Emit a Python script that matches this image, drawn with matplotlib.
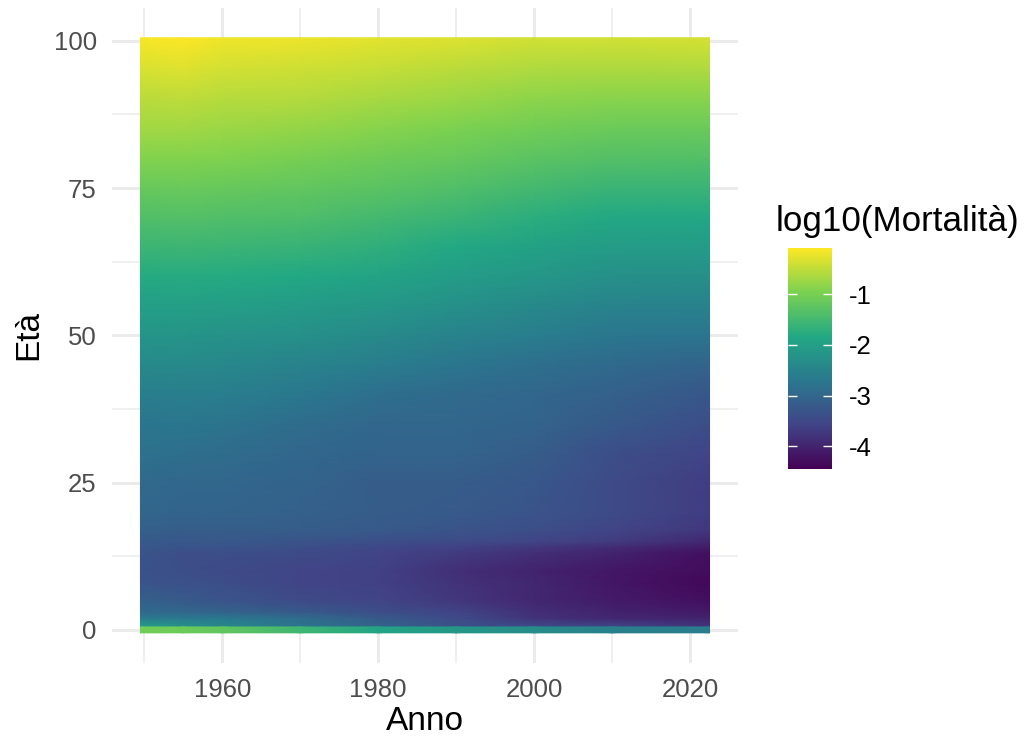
import numpy as np
import matplotlib
matplotlib.use("Agg")
import matplotlib.pyplot as plt
from matplotlib.colors import LinearSegmentedColormap

plt.rcParams['font.family'] = ['Liberation Sans', 'DejaVu Sans']

years = [1950, 1955, 1960, 1970, 1980, 1990, 2000, 2010, 2022]

# log10 mortality for age 0, one value per year in `years`
infant = [-1.05, -1.1, -1.2, -1.55, -1.9, -2.15, -2.35, -2.55, -2.62]

# the rest of the ages
ages = [1, 2, 3, 5, 8, 10, 13, 14, 15, 17, 20, 25, 30, 35, 40, 45, 50, 55, 60,
        65, 70, 75, 80, 85, 90, 95, 100]
mort = [
    [-2.0, -2.2, -2.4, -2.75, -3.05, -3.35, -3.45, -3.5, -3.75],
    [-2.65, -2.68, -2.7, -2.9, -3.2, -3.45, -3.8, -3.95, -4.0],
    [-2.95, -3.0, -3.05, -3.2, -3.4, -3.55, -3.85, -4.0, -4.1],
    [-3.1, -3.2, -3.3, -3.45, -3.55, -3.75, -3.95, -4.1, -4.25],
    [-3.3, -3.35, -3.4, -3.55, -3.6, -3.8, -3.95, -4.15, -4.35],
    [-3.35, -3.4, -3.45, -3.55, -3.6, -3.85, -4.0, -4.15, -4.3],
    [-3.3, -3.4, -3.4, -3.45, -3.55, -3.7, -3.85, -4.0, -4.25],
    [-3.25, -3.3, -3.3, -3.4, -3.5, -3.6, -3.75, -3.9, -4.1],
    [-3.2, -3.25, -3.25, -3.3, -3.4, -3.45, -3.55, -3.7, -3.95],
    [-3.1, -3.15, -3.15, -3.15, -3.2, -3.3, -3.4, -3.55, -3.75],
    [-3.0, -3.05, -3.05, -3.1, -3.15, -3.2, -3.3, -3.45, -3.65],
    [-2.95, -3.0, -3.0, -3.05, -3.15, -3.15, -3.25, -3.45, -3.65],
    [-2.8, -2.85, -2.9, -3.0, -3.05, -3.05, -3.15, -3.4, -3.55],
    [-2.75, -2.72, -2.78, -2.9, -3.0, -3.0, -3.05, -3.2, -3.4],
    [-2.6, -2.58, -2.6, -2.7, -2.85, -2.95, -3.0, -3.1, -3.25],
    [-2.4, -2.4, -2.42, -2.5, -2.6, -2.74, -2.85, -2.95, -3.05],
    [-2.2, -2.2, -2.22, -2.28, -2.38, -2.5, -2.6, -2.72, -2.75],
    [-2.0, -2.0, -2.02, -2.07, -2.15, -2.27, -2.4, -2.5, -2.52],
    [-1.8, -1.78, -1.8, -1.83, -1.92, -2.05, -2.15, -2.27, -2.3],
    [-1.58, -1.56, -1.58, -1.62, -1.7, -1.83, -1.95, -2.05, -2.07],
    [-1.37, -1.35, -1.37, -1.4, -1.5, -1.6, -1.73, -1.83, -1.85],
    [-1.15, -1.13, -1.15, -1.2, -1.28, -1.38, -1.5, -1.6, -1.6],
    [-0.92, -0.92, -0.94, -1.0, -1.08, -1.15, -1.27, -1.35, -1.36],
    [-0.72, -0.72, -0.75, -0.8, -0.88, -0.96, -1.05, -1.12, -1.14],
    [-0.55, -0.52, -0.57, -0.6, -0.67, -0.75, -0.85, -0.88, -0.88],
    [-0.35, -0.32, -0.38, -0.42, -0.48, -0.55, -0.62, -0.65, -0.63],
    [-0.14, -0.09, -0.18, -0.2, -0.27, -0.3, -0.38, -0.38, -0.36],
]

xticks = [1960, 1980, 2000, 2020]
xminor = [1950, 1970, 1990, 2010]
yticks = [0, 25, 50, 75, 100]
yminor = [12.5, 37.5, 62.5, 87.5]
cticks = [-1, -2, -3, -4]

# viridis cut to six stops, which is what gives the creases in the bands
stops = ["#440154", "#414487", "#2A788E", "#22A884", "#7AD151", "#FDE725"]
cmap = LinearSegmentedColormap.from_list("vir6", stops)

W, H = 1027, 737
fig = plt.figure(figsize=(W / 100, H / 100), dpi=100)
ax = fig.add_axes([112 / W, 1 - 662.6 / H, 626 / W, 654.6 / H])

ax.set_xlim(1945.85, 2026.15)
ax.set_ylim(-5.55, 105.55)

for x in xticks:
    ax.axvline(x, color="#EBEBEB", lw=2.1, zorder=0)
for x in xminor:
    ax.axvline(x, color="#EBEBEB", lw=1.1, zorder=0)
for y in yticks:
    ax.axhline(y, color="#EBEBEB", lw=2.1, zorder=0)
for y in yminor:
    ax.axhline(y, color="#EBEBEB", lw=1.1, zorder=0)

vmin, vmax = -4.45, -0.09
xedges = np.array(years, dtype=float)
xedges[0] -= 0.5
xedges[-1] += 0.5

yedges = np.array(ages, dtype=float)
yedges[0] -= 0.5
yedges[-1] += 0.5
mesh = ax.pcolormesh(xedges, yedges, np.array(mort), cmap=cmap,
                     vmin=vmin, vmax=vmax, shading="gouraud", zorder=2)

# age 0 is a sharp band of its own
ax.pcolormesh(xedges, [-0.5, 0.5], np.array([infant, infant]), cmap=cmap,
              vmin=vmin, vmax=vmax, shading="gouraud", zorder=2)

for s in ax.spines.values():
    s.set_visible(False)
ax.set_xticks(xticks)
ax.set_yticks(yticks)
ax.tick_params(length=0, labelsize=18.5, labelcolor="#4D4D4D", pad=11)
ax.set_xlabel("Anno", fontsize=24, labelpad=3)
ax.set_ylabel("Età", fontsize=24, labelpad=7)

cax = fig.add_axes([788 / W, 1 - 469.3 / H, 44 / W, 221.3 / H])
cb = fig.colorbar(mesh, cax=cax)
cb.outline.set_visible(False)
cb.set_ticks(cticks)
cb.set_ticklabels(["-1", "-2", "-3", "-4"])
cax.yaxis.set_ticks_position("both")
cax.tick_params(direction="in", length=6.3, width=1.0, color="white",
                labelsize=18.5, labelleft=False, labelright=True, pad=12)
fig.text(776 / W, 1 - 222 / H, "log10(Mortalità)", fontsize=25.2,
         ha="left", va="center")

fig.savefig("out.png", dpi=100)
